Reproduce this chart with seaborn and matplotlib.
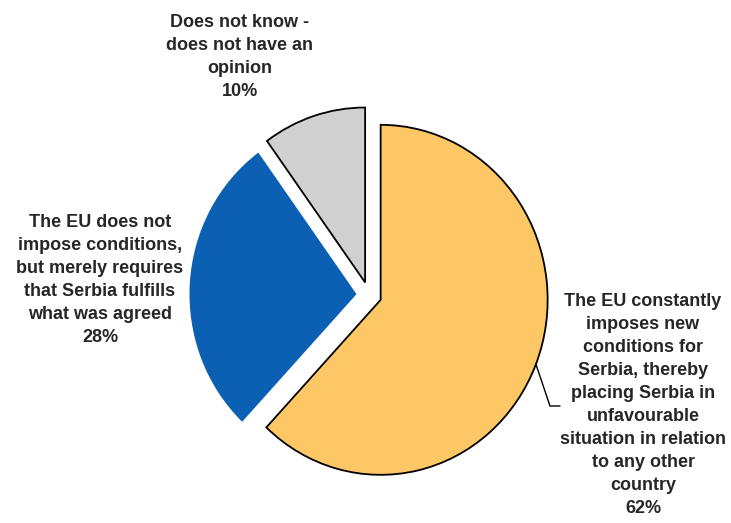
import numpy as np
import matplotlib
matplotlib.use("Agg")
import matplotlib.pyplot as plt
import seaborn as sns

# data
labels = [
    "The EU constantly\nimposes new\nconditions for\nSerbia, thereby\nplacing Serbia in\nunfavourable\nsituation in relation\nto any other\ncountry",
    "The EU does not\nimpose conditions,\nbut merely requires\nthat Serbia fulfills\nwhat was agreed",
    "Does not know -\ndoes not have an\nopinion",
]
shares = [62, 28, 10]
colors = ["#FEC766", "#0B60B4", "#D0D0D0"]
edges = ["black", "none", "black"]

sns.set_style("white")
plt.rcParams["font.family"] = ["Liberation Sans", "DejaVu Sans"]

fig = plt.figure(figsize=(7.31, 5.23), dpi=100)
ax = fig.add_axes([0, 0, 1, 1])
ax.axis("off")

wedges, _ = ax.pie(shares, colors=colors, startangle=90, counterclock=False,
                   explode=[0.075] * 3, radius=1.0)
for w, ec in zip(wedges, edges):
    w.set_edgecolor(ec)
    w.set_linewidth(1.3)

# pie is a bit narrower than tall in the original: 167 px/unit across, 175 px/unit down
sx_px, sy_px = 167, 175
ax.set_xlim(-369 / sx_px, (731 - 369) / sx_px)
ax.set_ylim(-(523 - 295) / sy_px, 295 / sy_px)
ax.set_aspect("auto")

def px(x, y):
    return (x - 369) / sx_px, (295 - y) / sy_px

txt = dict(ha="center", va="center", fontsize=13, fontweight="bold", linespacing=1.46)
ax.text(*px(643, 405), f"{labels[0]}\n{shares[0]}%", **txt)
ax.text(*px(100, 280), f"{labels[1]}\n{shares[1]}%", **txt)
ax.text(*px(240, 57), f"{labels[2]}\n{shares[2]}%", **txt)

# leader line for the largest slice
w = wedges[0]
mid = np.deg2rad((w.theta1 + w.theta2) / 2)
cx, cy = w.center
ex, ey = px(550, 406)
fx, _ = px(560, 406)
ax.plot([cx + w.r * np.cos(mid), ex, fx], [cy + w.r * np.sin(mid), ey, ey],
        color="black", lw=1)

fig.savefig("out.png", dpi=100)
